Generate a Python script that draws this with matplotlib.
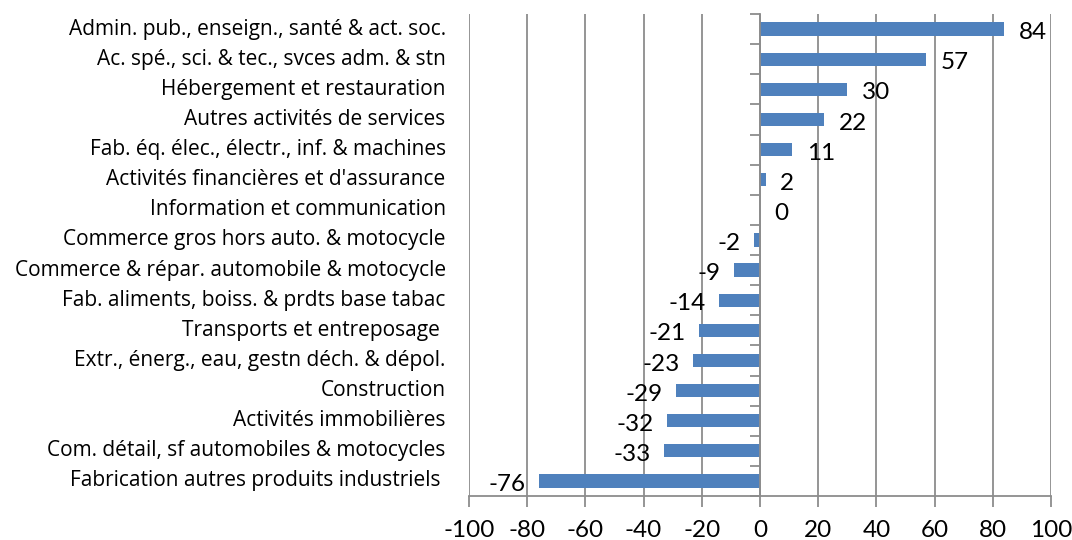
import matplotlib.pyplot as plt
import numpy as np

categories = [
    "Admin. pub., enseign., santé & act. soc.",
    "Ac. spé., sci. & tec., svces adm. & stn",
    "Hébergement et restauration",
    "Autres activités de services",
    "Fab. éq. élec., électr., inf. & machines",
    "Activités financières et d'assurance",
    "Information et communication",
    "Commerce gros hors auto. & motocycle",
    "Commerce & répar. automobile & motocycle",
    "Fab. aliments, boiss. & prdts base tabac",
    "Transports et entreposage ",
    "Extr., énerg., eau, gestn déch. & dépol.",
    "Construction",
    "Activités immobilières",
    "Com. détail, sf automobiles & motocycles",
    "Fabrication autres produits industriels ",
]
values = [84, 57, 30, 22, 11, 2, 0, -2, -9, -14, -21, -23, -29, -32, -33, -76]
xticks = [-100, -80, -60, -40, -20, 0, 20, 40, 60, 80, 100]

plt.rcParams['font.family'] = ['Lato', 'DejaVu Sans']
grey = '#8c8c8c'

fig = plt.figure(figsize=(10.72, 5.40), dpi=100)
ax = fig.add_axes([469/1072, 44/540, 582/1072, 482/540])

y = np.arange(len(categories))
ax.barh(y, values, height=0.44, color='#4F81BD', zorder=3)
ax.set_xlim(-100, 100)
ax.set_ylim(len(categories) - 0.5, -0.5)

ax.set_xticks(xticks)
ax.set_xticklabels([str(t) for t in xticks], fontsize=17.5)
ax.tick_params(axis='x', length=8, width=1.3, color=grey, pad=9)
ax.grid(axis='x', color=grey, linewidth=1.3, zorder=0)

# axe vertical à 0, graduations entre les catégories
for s in ['top', 'right']:
    ax.spines[s].set_visible(False)
ax.spines['bottom'].set_color(grey)
ax.spines['bottom'].set_linewidth(1.3)
ax.spines['left'].set_position(('data', 0))
ax.spines['left'].set_color(grey)
ax.spines['left'].set_linewidth(1.3)
ax.spines['left'].set_zorder(4)
ax.set_yticks(np.arange(len(categories) + 1) - 0.5)
ax.set_yticklabels([])
ax.tick_params(axis='y', length=7, width=1.3, color=grey)

tr = ax.get_yaxis_transform()
for i, lab in enumerate(categories):
    ax.text(-0.04, i, lab, transform=tr, ha='right', va='center', fontsize=15,
            family=['Open Sans', 'DejaVu Sans'])

for i, v in enumerate(values):
    if v >= 0:
        ax.text(v + 5, i + 0.12, str(v), ha='left', va='center', fontsize=17.5)
    else:
        ax.text(v - 4.5, i + 0.12, str(v), ha='right', va='center', fontsize=17.5)

fig.savefig('out.png', dpi=100)
